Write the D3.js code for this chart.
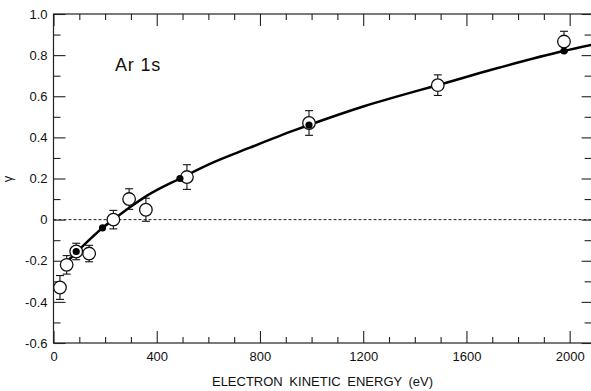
<!DOCTYPE html>
<html><head><meta charset="utf-8">
<script src="https://cdn.jsdelivr.net/npm/d3@7"></script>
<style>
body{margin:0;background:#fff;}
svg{display:block;font-family:"Liberation Sans",Arial,Helvetica,sans-serif;}
</style></head>
<body><svg id="c" width="591" height="391"></svg>
<script>
// measured data (open circles with error bars)
const expEnergy = [25, 51, 88, 138, 232, 293, 358, 517, 990, 1489, 1978];
const expGamma  = [-0.33, -0.22, -0.155, -0.165, 0.0, 0.10, 0.048, 0.207, 0.47, 0.654, 0.866];
const expErr    = [0.058, 0.045, 0.04, 0.04, 0.045, 0.05, 0.056, 0.06, 0.06, 0.05, 0.05];
// theoretical points (filled dots)
const thEnergy = [88, 190, 490, 990, 1978];
const thGamma  = [-0.155, -0.04, 0.20, 0.46, 0.82];
// theory curve samples
const curveEnergy = [56, 92, 150, 190, 232, 296, 358, 490, 600, 761, 935, 990, 1200, 1419, 1489, 1700, 1976, 2085];
const curveGamma  = [-0.20, -0.155, -0.085, -0.04, 0.0, 0.06, 0.113, 0.20, 0.268, 0.35, 0.435, 0.46, 0.55, 0.63, 0.654, 0.73, 0.82, 0.85];
const xMajorTicks = [0, 400, 800, 1200, 1600, 2000];
const yMajorTicks = [-0.6, -0.4, -0.2, 0, 0.2, 0.4, 0.6, 0.8, 1.0];
const xTitle = "ELECTRON KINETIC ENERGY (eV)";
const yTitle = "γ";
const label = "Ar 1s";

const svg = d3.select("#c");
const L = 53.5, R = 591.6, T = 14, B = 343;
const x = d3.scaleLinear().domain([0, 2085]).range([L, R]);
const y = d3.scaleLinear().domain([-0.6, 1.0]).range([B, T]);

const xMinor = d3.range(0, 2085, 100).filter(v => v % 400 !== 0);
const yMinor = d3.range(-5, 10, 2).map(v => v / 10);
const fmtY = v => Math.abs(v) < 1e-9 ? "0" : (v < 0 ? "-" : "") + Math.abs(v).toFixed(1);

function styleAxis(g){
  g.select(".domain").remove();
  g.selectAll("line").attr("stroke","#222").attr("stroke-width",1.1);
  g.selectAll("text").attr("fill","#111").style("font-size","13px");
}
// frame
svg.append("rect").attr("x",L).attr("y",T).attr("width",R-L).attr("height",B-T)
  .attr("fill","none").attr("stroke","#222").attr("stroke-width",1.2);

// bottom
svg.append("g").attr("transform",`translate(0,${B})`)
  .call(d3.axisBottom(x).tickValues(xMajorTicks).tickSizeInner(-12).tickSizeOuter(0).tickPadding(9).tickFormat(d3.format("d")))
  .call(styleAxis);
svg.append("g").attr("transform",`translate(0,${B})`)
  .call(d3.axisBottom(x).tickValues(xMinor).tickSizeInner(-6).tickSizeOuter(0).tickFormat(""))
  .call(styleAxis);
// top
svg.append("g").attr("transform",`translate(0,${T})`)
  .call(d3.axisTop(x).tickValues(xMajorTicks).tickSizeInner(-12).tickSizeOuter(0).tickFormat(""))
  .call(styleAxis);
svg.append("g").attr("transform",`translate(0,${T})`)
  .call(d3.axisTop(x).tickValues(xMinor).tickSizeInner(-6).tickSizeOuter(0).tickFormat(""))
  .call(styleAxis);
// left
svg.append("g").attr("transform",`translate(${L},0)`)
  .call(d3.axisLeft(y).tickValues(yMajorTicks).tickSizeInner(-12).tickSizeOuter(0).tickPadding(6).tickFormat(fmtY))
  .call(styleAxis);
svg.append("g").attr("transform",`translate(${L},0)`)
  .call(d3.axisLeft(y).tickValues(yMinor).tickSizeInner(-7).tickSizeOuter(0).tickFormat(""))
  .call(styleAxis);
// right
svg.append("g").attr("transform",`translate(${R},0)`)
  .call(d3.axisRight(y).tickValues(yMajorTicks).tickSizeInner(-10).tickSizeOuter(0).tickFormat(""))
  .call(styleAxis);
svg.append("g").attr("transform",`translate(${R},0)`)
  .call(d3.axisRight(y).tickValues(yMinor).tickSizeInner(-7).tickSizeOuter(0).tickFormat(""))
  .call(styleAxis);

// zero dotted line
svg.append("line").attr("x1",L).attr("x2",R).attr("y1",y(0)).attr("y2",y(0))
  .attr("stroke","#222").attr("stroke-width",1).attr("stroke-dasharray","3,2");

// theory curve
const curveData = curveEnergy.map((e,i)=>[e, curveGamma[i]]);
svg.append("path").datum(curveData)
  .attr("d", d3.line().x(d=>x(d[0])).y(d=>y(d[1])).curve(d3.curveMonotoneX))
  .attr("fill","none").attr("stroke","#000").attr("stroke-width",2.5);

// error bars
const expData = expEnergy.map((e,i)=>({e, g:expGamma[i], err:expErr[i]}));
const eb = svg.append("g").attr("stroke","#111").attr("stroke-width",1.1);
expData.forEach(d=>{
  const cx = x(d.e);
  eb.append("line").attr("x1",cx).attr("x2",cx).attr("y1",y(d.g+d.err)).attr("y2",y(d.g-d.err));
  eb.append("line").attr("x1",cx-4).attr("x2",cx+4).attr("y1",y(d.g+d.err)).attr("y2",y(d.g+d.err));
  eb.append("line").attr("x1",cx-4).attr("x2",cx+4).attr("y1",y(d.g-d.err)).attr("y2",y(d.g-d.err));
});
// open circles
svg.append("g").selectAll("circle").data(expData).join("circle")
  .attr("cx",d=>x(d.e)).attr("cy",d=>y(d.g)).attr("r",6.3)
  .attr("fill","#fff").attr("stroke","#111").attr("stroke-width",1.3);
// filled dots
svg.append("g").selectAll("circle").data(thEnergy.map((e,i)=>({e,g:thGamma[i]}))).join("circle")
  .attr("cx",d=>x(d.e)).attr("cy",d=>y(d.g)).attr("r",3.6).attr("fill","#000");

// texts
svg.append("text").attr("x",(L+R)/2).attr("y",386).attr("text-anchor","middle")
  .style("font-size","13px").style("word-spacing","3px").attr("fill","#111").text(xTitle);
svg.append("text").attr("transform","translate(12,179) rotate(-90)").attr("text-anchor","middle")
  .style("font-size","13px").attr("fill","#111").text(yTitle);
svg.append("text").attr("x",115).attr("y",71).style("font-size","18px").style("letter-spacing","0.8px")
  .attr("fill","#111").text(label);
</script></body></html>
